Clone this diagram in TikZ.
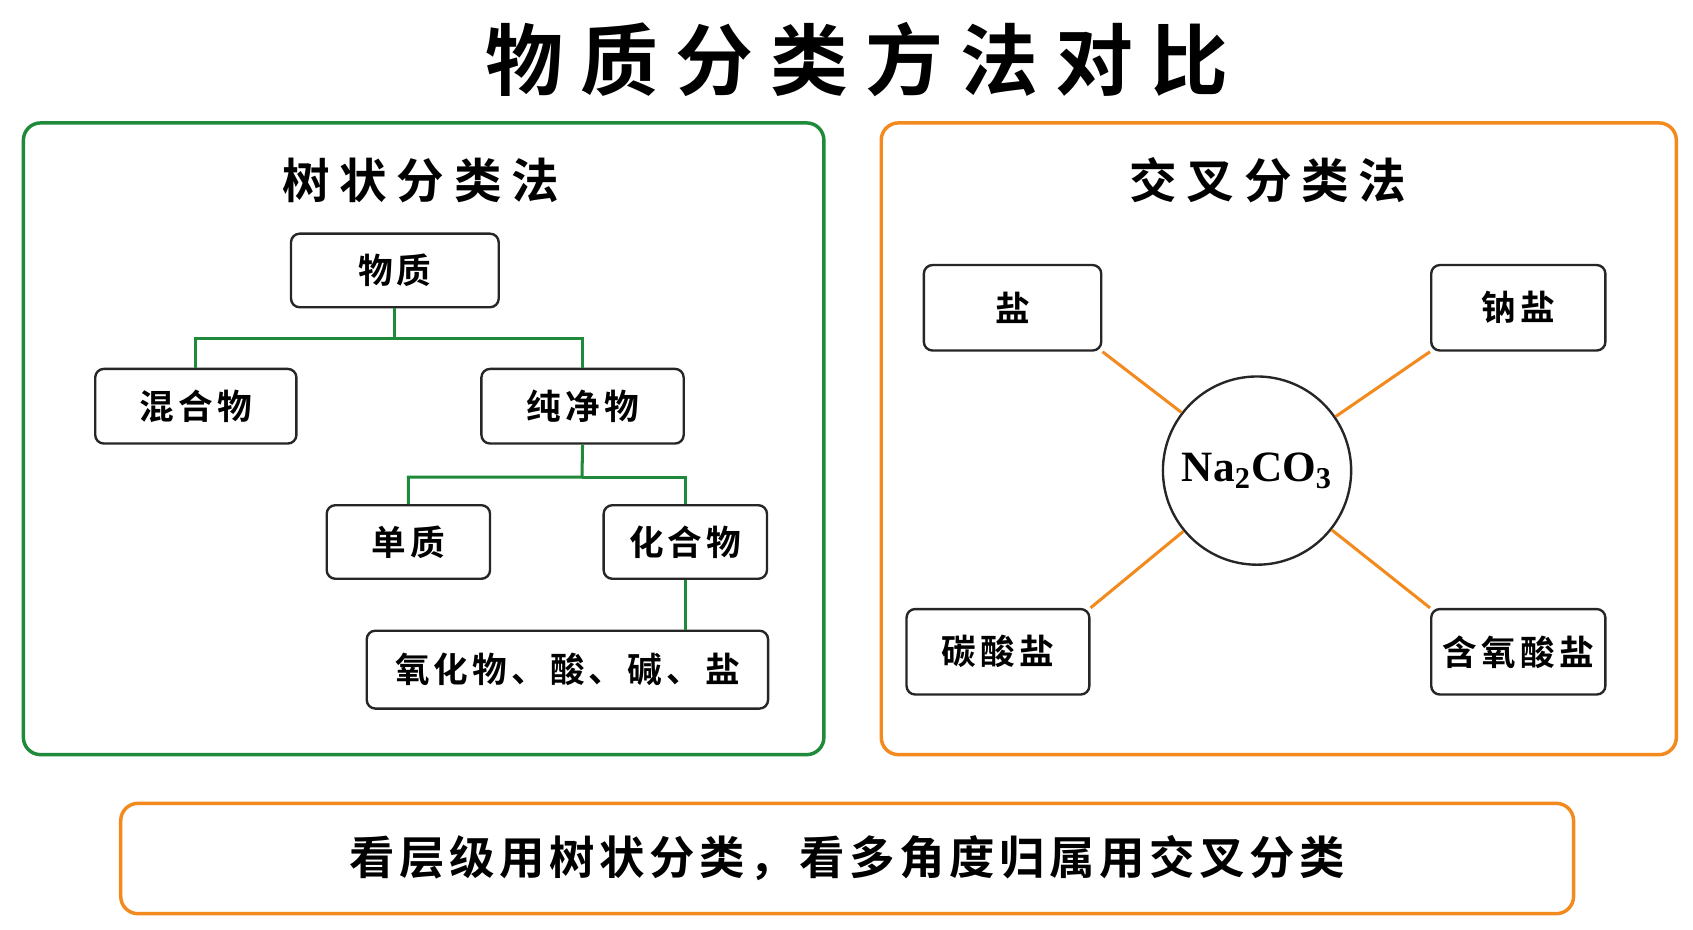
\documentclass[tikz,border=0pt]{standalone}
\usepackage{fontspec}
\setmainfont{Liberation Serif}
\newfontfamily\cjk{Noto Sans CJK SC}[BoldFont={* Bold}]
\newfontfamily\cjkb{Noto Sans CJK SC Bold}
\definecolor{grn}{HTML}{1E8A3A}
\definecolor{org}{HTML}{F28A1E}
\begin{document}
\begin{tikzpicture}[x=0.5pt,y=-0.5pt,
  panel/.style={draw,line width=1.6pt,rounded corners=8pt},
  box/.style={draw=black!85,line width=1.1pt,rounded corners=4pt,fill=white,font=\cjk\bfseries\fontsize{16}{18}\selectfont\addfontfeatures{LetterSpace=12},inner sep=0pt},
  gline/.style={draw=grn,line width=1.4pt},
  oline/.style={draw=org,line width=1.4pt}]
\useasboundingbox (0,0) rectangle (1565,859);
\fill[white] (0,0) rectangle (1565,859);
\node[font=\cjk\bfseries\fontsize{36}{40}\selectfont\addfontfeatures{LetterSpace=22}] (title) at (792,55) {物质分类方法对比};
\node[panel,draw=grn,minimum width=370pt,minimum height=292pt,anchor=north west] (lp) at (20,112) {};
\node[panel,draw=org,minimum width=367.5pt,minimum height=292pt,anchor=north west] (rp) at (813,112) {};
\node[font=\cjk\bfseries\fontsize{22}{26}\selectfont\addfontfeatures{LetterSpace=20}] (lt) at (389,167) {树状分类法};
\node[font=\cjk\bfseries\fontsize{22}{26}\selectfont\addfontfeatures{LetterSpace=20}] (rt) at (1172,167) {交叉分类法};
% tree
\node[box,minimum width=96pt,minimum height=34pt] (wz) at (365,250) {物质};
\node[box,minimum width=93pt,minimum height=34.5pt] (hh) at (181,375.5) {混合物};
\node[box,minimum width=93.5pt,minimum height=34.5pt] (cj) at (538.5,375.5) {纯净物};
\node[box,minimum width=75.5pt,minimum height=34pt] (dz) at (377.5,501) {单质};
\node[box,minimum width=75.5pt,minimum height=34pt] (hw) at (633.5,501) {化合物};
\node[box,minimum width=185.5pt,minimum height=36pt] (ys) at (524.5,619) {氧化物、酸、碱、盐};
\coordinate (t1) at (365,313);
\coordinate (t2) at (538,441);
\draw[gline] (wz.south) -- (t1) -| (hh.north);
\draw[gline] (t1) -| (cj.north);
\draw[gline] (cj.south) -- (t2) -| (dz.north);
\draw[gline] (t2) -| (hw.north);
\draw[gline] (hw.south) -- (ys.north -| hw.south);
% cross
\node[draw=black!85,line width=1.1pt,circle,minimum size=87pt,inner sep=0pt,fill=white,font=\bfseries\fontsize{20}{22}\selectfont] (na) at (1162,435) {Na\textsubscript{2}CO\textsubscript{3}};
\node[box,minimum width=82pt,minimum height=39.5pt] (y1) at (936,284.5) {盐};
\node[box,minimum width=80.5pt,minimum height=39.5pt] (y2) at (1403.5,284.5) {钠盐};
\node[box,minimum width=84.5pt,minimum height=39.5pt] (y3) at (922.5,602.5) {碳酸盐};
\node[box,minimum width=80.5pt,minimum height=39.5pt] (y4) at (1403.5,602.5) {含氧酸盐};
\draw[oline] (y1.south east) -- (na);
\draw[oline] (y2.south west) -- (na);
\draw[oline] (y3.north east) -- (na);
\draw[oline] (y4.north west) -- (na);
% bottom
\node[panel,draw=org,minimum width=671.5pt,minimum height=51pt,anchor=north west,font=\cjk\bfseries\fontsize{21}{24}\selectfont\addfontfeatures{LetterSpace=10}] (bt) at (110,741) {看层级用树状分类，看多角度归属用交叉分类};
\end{tikzpicture}
\end{document}
